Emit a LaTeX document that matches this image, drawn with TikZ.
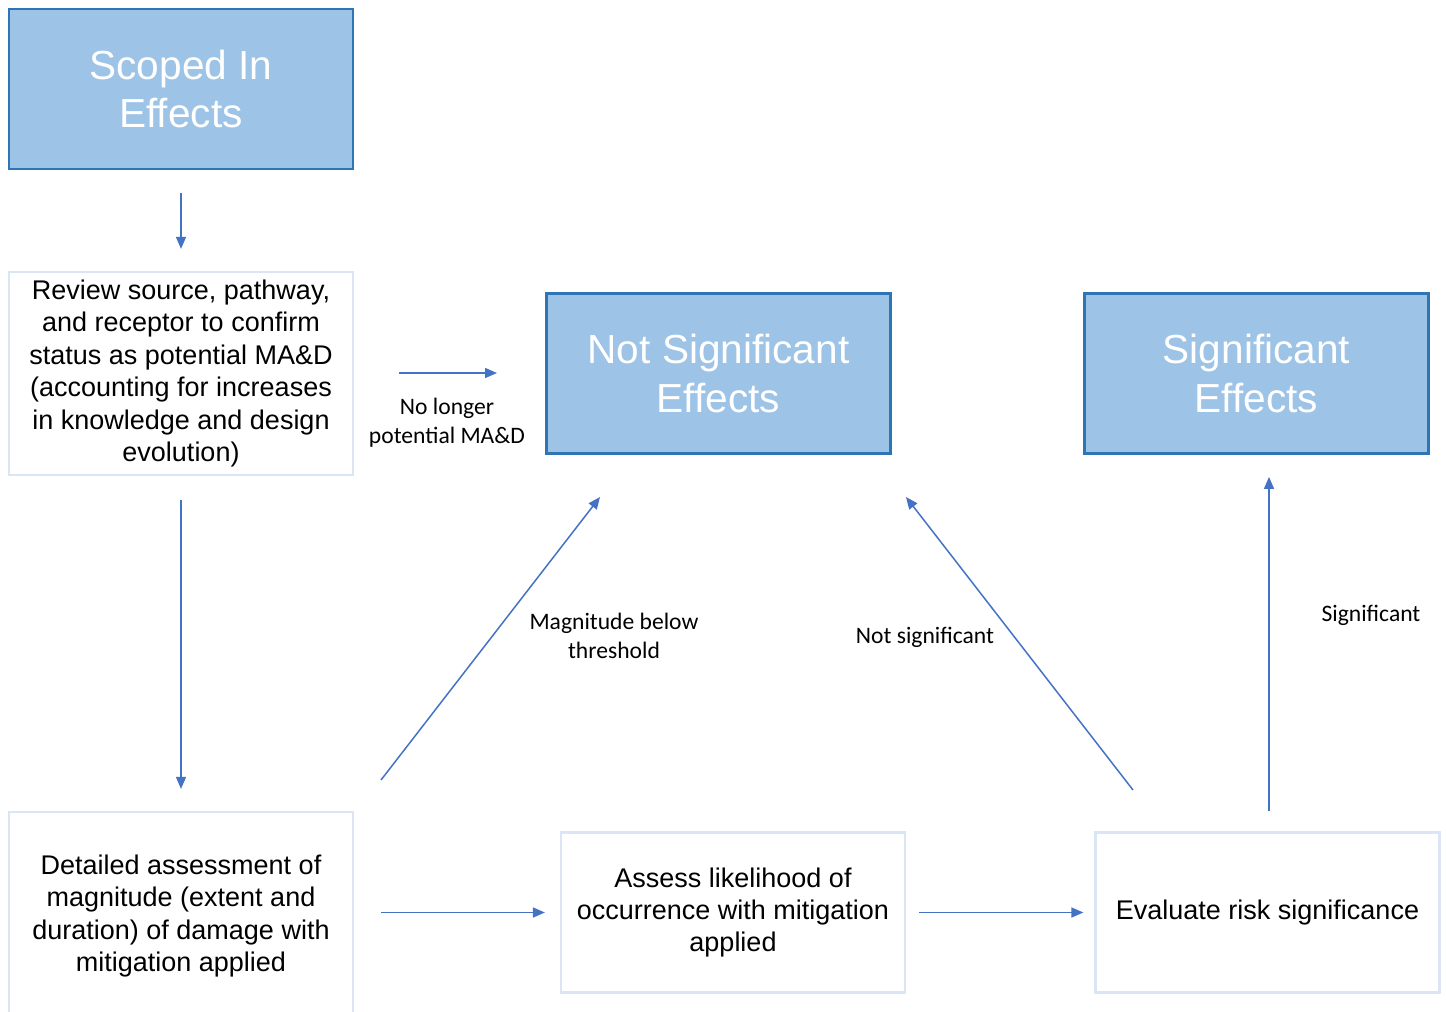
\documentclass[tikz,border=0pt]{standalone}
\usepackage{fontspec}
\setmainfont{Liberation Sans}
\newfontfamily\labelfont{Carlito}
\usetikzlibrary{arrows.meta}
\definecolor{boxfill}{HTML}{9DC3E6}
\definecolor{boxedge}{HTML}{2E75B6}
\definecolor{paleedge}{HTML}{DAE6F4}
\definecolor{flow}{HTML}{4472C4}
\tikzset{
  effect/.style={draw=boxedge, fill=boxfill, line width=1.4pt, minimum width=172pt,
    minimum height=80pt, text=white, align=center,
    font=\fontsize{20.3}{24.3}\selectfont, inner sep=0pt},
  stepbox/.style={draw=paleedge, line width=1.1pt, minimum width=172pt,
    minimum height=80pt, align=center, text=black,
    font=\fontsize{13.5}{16.2}\selectfont, inner sep=0pt},
  flowarrow/.style={draw=flow, line width=0.75pt, -{Triangle[length=6pt,width=5pt]}},
  tag/.style={align=center, font=\labelfont\fontsize{11.8}{14.5}\selectfont, text=black, inner sep=0pt}
}
\begin{document}
\begin{tikzpicture}[x=0.5pt, y=-0.5pt]
\useasboundingbox (0,0) rectangle (1446,1012);
\begin{scope}
\clip (0,0) rectangle (1446,1012);

% upper row: outcome boxes
\node[effect] (scoped) at (181,89) {Scoped In\\Effects};
\node[effect] (notsig) at (718.5,373.5) {Not Significant\\Effects};
\node[effect] (sig) at (1256.5,373.5) {Significant\\Effects};

% process steps
\node[stepbox, minimum height=101.5pt] (review) at (181,373.5)
  {Review source, pathway,\\and receptor to confirm\\status as potential MA\&D\\(accounting for increases\\in knowledge and design\\evolution)};
\node[stepbox, minimum height=104pt] (detail) at (181,916)
  {Detailed assessment of\\magnitude (extent and\\duration) of damage with\\mitigation applied};
\node[stepbox] (assess) at (733,912.5)
  {Assess likelihood of\\occurrence with mitigation\\applied};
\node[stepbox] (evaluate) at (1267.5,912.5) {Evaluate risk significance};
\end{scope}

% free ends of the floating connectors
\coordinate (noA) at (399,373);
\coordinate (noB) at (497,373);
\coordinate (magA) at (381,780);
\coordinate (magB) at (600,497);
\coordinate (nsA) at (1133,790);
\coordinate (nsB) at (906,497);

% connectors
\draw[flowarrow, shorten <=11.5pt, shorten >=11pt] (scoped.south) -- (review.north);
\draw[flowarrow] (noA) -- (noB);
\draw[flowarrow, shorten <=12pt, shorten >=11pt] (review.south) -- (detail.north);
\draw[flowarrow] (magA) -- (magB);
\draw[flowarrow] (nsA) -- (nsB);
\draw[flowarrow, shorten <=10pt, shorten >=11pt] (evaluate.north) ++(1.5,0) coordinate (sigA) -- (sigA |- sig.south);
\draw[flowarrow, shorten <=13.5pt, shorten >=7.5pt] (detail.east |- assess.west) -- (assess.west);
\draw[flowarrow, shorten <=6.5pt, shorten >=5.5pt] (assess.east) -- (evaluate.west);

% branch labels
\node[tag] (lblno) at (447,423) {No longer\\potential MA\&D};
\node[tag] (lblmag) at (614,636) {Magnitude below\\threshold};
\node[tag] (lblns) at (925,637) {Not significant};
\node[tag] (lblsig) at (1371,615) {Significant};
\end{tikzpicture}
\end{document}
